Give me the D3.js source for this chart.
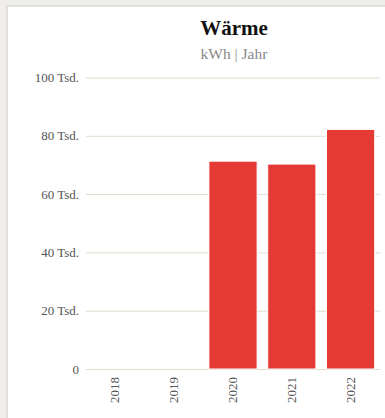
<!DOCTYPE html>
<html>
<head>
<meta charset="utf-8">
<script src="https://cdn.jsdelivr.net/npm/d3@7"></script>
<style>
  html, body { margin: 0; padding: 0; background: #efeeeb; overflow: hidden; }
  #card {
    position: absolute; left: 6px; top: 5px;
    width: 400px; height: 430px;
    background: #fff;
    border: 2px solid #e2e0da;
    box-sizing: border-box;
  }
  #chart { position: absolute; left: 0; top: 0; }
  text { font-family: "Liberation Serif", "DejaVu Serif", serif; }
</style>
</head>
<body>
<div id="card"></div>
<svg id="chart" width="385" height="418"></svg>
<script>
// data
var years = ['2018', '2019', '2020', '2021', '2022'];
var heat = [0, 0, 71300, 70300, 82200];   // kWh
var yTicks = [0, 20000, 40000, 60000, 80000, 100000];

var svg = d3.select('#chart');

var x = d3.scaleBand()
  .domain(years)
  .range([86, 380])
  .paddingInner(0.18)
  .paddingOuter(0.09);

var y = d3.scaleLinear()
  .domain([0, 100000])
  .range([369, 77.5]);

function fmt(v) { return v === 0 ? '0' : (v / 1000) + ' Tsd.'; }

// title
svg.append('text')
  .attr('x', 234).attr('y', 35)
  .attr('text-anchor', 'middle')
  .style('font-size', '21px').style('font-weight', 'bold').style('fill', '#111')
  .text('Wärme');
svg.append('text')
  .attr('x', 234).attr('y', 59)
  .attr('text-anchor', 'middle')
  .style('font-size', '15.5px').style('fill', '#888')
  .text('kWh | Jahr');

// grid + y labels
var yAxis = svg.append('g')
  .call(d3.axisLeft(y).tickValues(yTicks).tickSize(-(380 - 86)).tickFormat(fmt).tickPadding(7))
  .attr('transform', 'translate(86,0)');
yAxis.select('.domain').remove();
yAxis.selectAll('.tick line').attr('stroke', '#e0dbcc').attr('stroke-width', 1);
yAxis.selectAll('.tick text')
  .style('font-size', '13px').style('fill', '#555')
  .style('font-family', '"Liberation Serif", serif');

// bars
svg.append('g').selectAll('rect')
  .data(years.map(function (d, i) { return { year: d, value: heat[i] }; }).filter(function (d) { return d.value > 0; }))
  .enter()
  .append('rect')
  .attr('x', function (d) { return x(d.year); })
  .attr('y', function (d) { return y(d.value); })
  .attr('width', x.bandwidth())
  .attr('height', function (d) { return y(0) - y(d.value); })
  .attr('fill', '#e53935')
  .attr('stroke', '#fff')
  .attr('stroke-width', 1);

// x labels
var xAxis = svg.append('g')
  .attr('transform', 'translate(0,369)')
  .call(d3.axisBottom(x).tickSize(0).tickPadding(0));
xAxis.select('.domain').remove();
xAxis.selectAll('.tick text')
  .attr('transform', 'translate(4,8) rotate(-90)')
  .attr('text-anchor', 'end')
  .attr('dy', 0)
  .attr('y', 0)
  .style('font-size', '13px').style('fill', '#555')
  .style('font-family', '"Liberation Serif", serif');
</script>
</body>
</html>
